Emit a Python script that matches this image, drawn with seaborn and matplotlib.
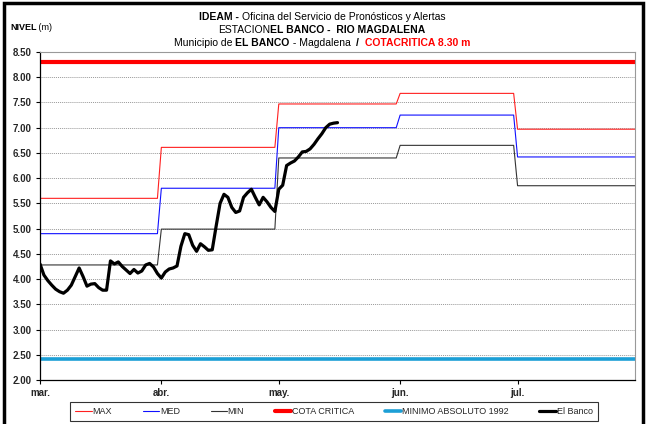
import pandas as pd
import matplotlib
matplotlib.use("Agg")
import matplotlib.pyplot as plt
import matplotlib.patches as mpatches
import seaborn as sns

IMAGE_DPI = 100
FUENTE = ['Liberation Sans Narrow', 'Liberation Sans', 'DejaVu Sans']

# niveles mensuales de referencia (m)
meses = ["mar.", "abr.", "may.", "jun.", "jul."]
inicio_meses = ["2022-03-01", "2022-04-01", "2022-05-01", "2022-06-01", "2022-07-01"]
nivel_max = [5.60, 6.61, 7.47, 7.68, 6.97]
nivel_med = [4.90, 5.80, 7.00, 7.25, 6.42]
nivel_min = [4.28, 4.99, 6.40, 6.65, 5.85]
cota_critica = 8.30
minimo_absoluto = 2.42

# nivel diario observado El Banco desde 1 de marzo
el_banco = [
    4.30, 4.08, 3.97, 3.88, 3.80, 3.75, 3.72, 3.78, 3.88, 4.05,
    4.22, 4.05, 3.86, 3.90, 3.91, 3.83, 3.78, 3.78, 4.36, 4.30,
    4.34, 4.25, 4.18, 4.11, 4.19, 4.12, 4.16, 4.28, 4.31, 4.24,
    4.11,
    4.02, 4.14, 4.20, 4.22, 4.26, 4.65, 4.90, 4.88, 4.67, 4.55,
    4.70, 4.64, 4.57, 4.58, 5.05, 5.50, 5.68, 5.62, 5.42, 5.32,
    5.35, 5.62, 5.71, 5.78, 5.62, 5.47, 5.62, 5.53, 5.42, 5.34,
    5.78, 5.86, 6.25, 6.30, 6.34, 6.42, 6.52, 6.53, 6.58, 6.67,
    6.78, 6.88, 7.00, 7.07, 7.09, 7.10,
]


def linea_texto(fig, x_px, y_px, partes, size, ha='center'):
    r = fig.canvas.get_renderer()
    textos = []
    for txt, peso, color in partes:
        t = fig.text(0, 1 - y_px / fig.bbox.height, txt, fontsize=size, fontweight=peso,
                     color=color, va='center', ha='left', family=FUENTE)
        textos.append(t)
    anchos = [t.get_window_extent(r).width for t in textos]
    x = x_px - sum(anchos) / 2 if ha == 'center' else x_px
    for t, w in zip(textos, anchos):
        t.set_x(x / fig.bbox.width)
        x += w


fechas = pd.date_range("2022-03-01", "2022-07-31", freq="D")
df = pd.DataFrame({'fecha': fechas})
df['MAX'] = [nivel_max[f.month - 3] for f in fechas]
df['MED'] = [nivel_med[f.month - 3] for f in fechas]
df['MIN'] = [nivel_min[f.month - 3] for f in fechas]
df['COTA CRITICA'] = cota_critica
df['MINIMO ABSOLUTO 1992'] = minimo_absoluto
obs = pd.DataFrame({'fecha': fechas[:len(el_banco)], 'El Banco': el_banco})

sns.set_style("white")
plt.rcParams['font.family'] = FUENTE

fig = plt.figure(figsize=(6.48, 4.24), dpi=IMAGE_DPI)
ax = fig.add_axes([40 / 648, 1 - 380 / 424, 595 / 648, 328 / 424])

estilos = [
    ('COTA CRITICA', '#ff0000', 3.0),
    ('MINIMO ABSOLUTO 1992', '#1c9fd6', 2.6),
    ('MAX', '#ff2020', 0.8),
    ('MED', '#1010ff', 0.8),
    ('MIN', '#333333', 0.8),
]
for col, color, lw in estilos:
    sns.lineplot(data=df, x='fecha', y=col, color=color, linewidth=lw, ax=ax, label=col)
sns.lineplot(data=obs, x='fecha', y='El Banco', color='black', linewidth=2.3, ax=ax, label='El Banco')

ax.set_xlim(fechas[0], fechas[-1])
ax.set_ylim(2.0, 8.5)
ax.set_yticks([2.0 + 0.5 * i for i in range(14)])
ax.set_yticklabels([f"{2.0 + 0.5 * i:.2f}" for i in range(14)], fontsize=7, fontweight='bold')
ax.set_xticks(pd.to_datetime(inicio_meses))
ax.set_xticklabels(meses, fontsize=7, fontweight='bold')
ax.set_xlabel('')
ax.set_ylabel('')
ax.tick_params(axis='both', direction='out', length=3, width=0.8, color='black', pad=3,
               left=True, bottom=True)
ax.yaxis.grid(True, linestyle=(0, (1, 1)), color='#999999', linewidth=0.7)
ax.xaxis.grid(False)
ax.set_axisbelow(True)
for lado in ['top', 'right']:
    ax.spines[lado].set_color('#999999')
    ax.spines[lado].set_linewidth(0.8)
for lado in ['left', 'bottom']:
    ax.spines[lado].set_color('black')
    ax.spines[lado].set_linewidth(0.9)

handles, labels = ax.get_legend_handles_labels()
ax.get_legend().remove()
orden = ['MAX', 'MED', 'MIN', 'COTA CRITICA', 'MINIMO ABSOLUTO 1992', 'El Banco']
mapa = dict(zip(labels, handles))
leg = fig.legend([mapa[o] for o in orden], orden, loc='lower center', ncol=6,
                 bbox_to_anchor=(334 / 648, 3 / 424), fontsize=6.5, frameon=True, fancybox=False,
                 handlelength=1.8, handletextpad=0.1, columnspacing=3.4,
                 borderpad=0.55, borderaxespad=0)
leg.get_frame().set_edgecolor('black')
leg.get_frame().set_linewidth(0.8)

linea_texto(fig, 322, 17, [("IDEAM - ", 'bold', 'black'),
                           ("Oficina del Servicio de Pronósticos y Alertas", 'normal', 'black')], 7.5)
linea_texto(fig, 322, 30, [("ESTACION", 'normal', 'black'),
                           ("EL BANCO -  RIO MAGDALENA", 'bold', 'black')], 7.5)
linea_texto(fig, 322, 43, [("Municipio de ", 'normal', 'black'),
                           ("EL BANCO", 'bold', 'black'),
                           (" - Magdalena  ", 'normal', 'black'),
                           ("/  ", 'bold', 'black'),
                           ("COTACRITICA 8.30 m", 'bold', '#ff0000')], 7.5)
linea_texto(fig, 10, 28, [("NIVEL", 'bold', 'black'), (" (m)", 'normal', 'black')], 6.5, ha='left')

marco = mpatches.Rectangle((3.5 / 648, -0.05), 639.5 / 648, 1.05 - 3.5 / 424, transform=fig.transFigure,
                           fill=False, edgecolor='black', linewidth=2.5)
fig.add_artist(marco)

plt.savefig('out.png', dpi=IMAGE_DPI)
plt.close()
